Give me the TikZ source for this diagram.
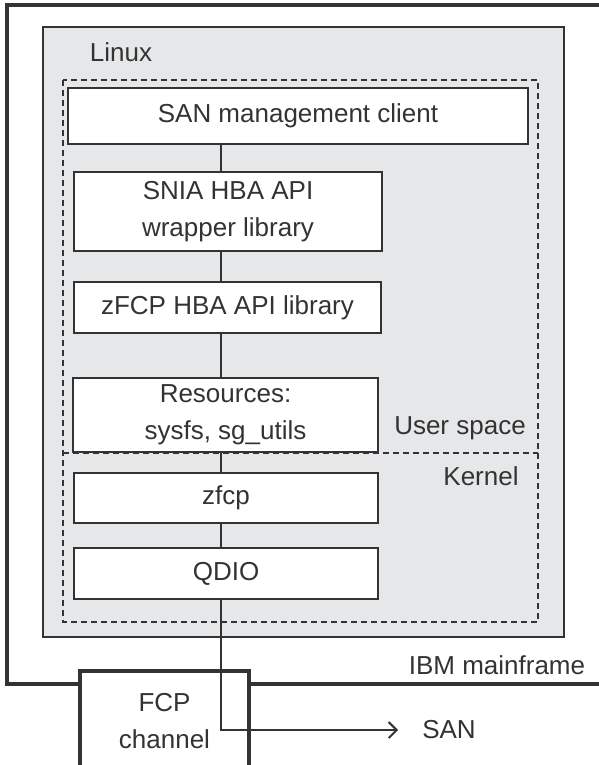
\documentclass[tikz,border=0pt]{standalone}
\usepackage{fontspec}
\setmainfont{Liberation Sans}
\usepackage{tikz}
\usetikzlibrary{positioning, arrows.meta}

\definecolor{inkgray}{HTML}{333333}
\definecolor{linuxgray}{HTML}{E6E7E8}

\tikzset{
    layerbox/.style={draw=inkgray, line width=1.6pt, fill=white, align=center,
        inner sep=0pt, font=\fontsize{26}{37}\selectfont, text=inkgray},
    tag/.style={font=\fontsize{26}{37}\selectfont, text=inkgray, inner sep=2pt},
    link/.style={draw=inkgray, line width=1.3pt},
    spacedash/.style={draw=inkgray, line width=1.3pt, dash pattern=on 6pt off 4pt}
}

\begin{document}
\begin{tikzpicture}[x=1pt, y=-1pt]
    \clip (0,0) rectangle (599,765);

    % IBM mainframe frame
    \draw[inkgray, line width=3.2pt] (610,5) -- (7,5) -- (7,684) -- (610,684);
    \node[tag] (mainframe) at (497,665) {IBM mainframe};

    % Linux image
    \draw[draw=inkgray, line width=1.7pt, fill=linuxgray] (43,27) rectangle (564,637);
    \node[tag] (linux) at (121,52) {Linux};

    % User space / Kernel split
    \draw[spacedash] (63,80) rectangle (538,622);
    \draw[spacedash] (63,453) -- (538,453);
    \node[tag] (user) at (460,428) {User space};
    \node[tag] (kernel) at (481,476) {Kernel};

    % Software layers
    \node[layerbox, minimum width=460, minimum height=56] (client) at (298,116) {SAN management client};
    \node[layerbox, minimum width=308, minimum height=79] (snia) at (228,211.5) {SNIA HBA API\\wrapper library};
    \node[layerbox, minimum width=307, minimum height=51] (hbalib) at (227.5,307.5) {zFCP HBA API library};
    \node[layerbox, minimum width=305, minimum height=74] (res) at (225.5,415) {Resources:\\sysfs, sg\_utils};
    \node[layerbox, minimum width=304, minimum height=50] (zfcp) at (226,498) {zfcp};
    \node[layerbox, minimum width=304, minimum height=51] (qdio) at (226,573.5) {QDIO};

    % FCP channel on the frame edge
    \node[layerbox, line width=3.2pt, minimum width=169, minimum height=100] (fcp) at (164.5,721) {FCP\\channel};
    \node[tag] (san) at (449,730) {SAN};

    % Connectors
    \coordinate (bus) at (221,0);
    \draw[link] (client.south -| bus) -- (snia.north -| bus);
    \draw[link] (snia.south -| bus) -- (hbalib.north -| bus);
    \draw[link] (hbalib.south -| bus) -- (res.north -| bus);
    \draw[link] (res.south -| bus) -- (zfcp.north -| bus);
    \draw[link] (zfcp.south -| bus) -- (qdio.north -| bus);
    \draw[link, -{Straight Barb[length=8pt, width=16pt, line width=2pt]}]
        (qdio.south -| bus) |- ([xshift=-22pt]san.west);

\end{tikzpicture}
\end{document}
